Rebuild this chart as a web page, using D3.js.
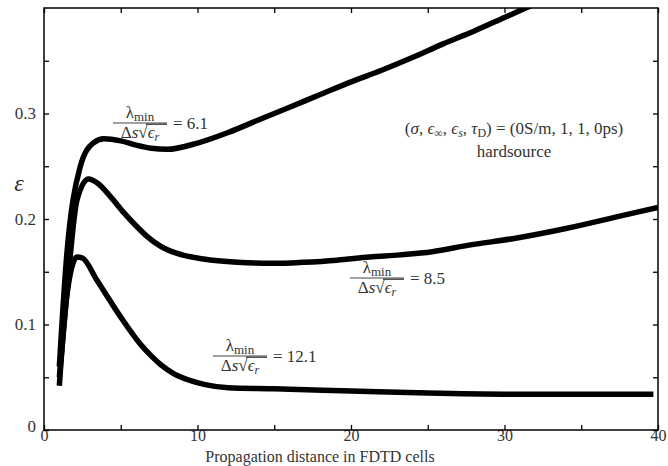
<!DOCTYPE html>
<html>
<head>
<meta charset="utf-8">
<script src="https://cdn.jsdelivr.net/npm/d3@7"></script>
<style>
  html, body { margin: 0; padding: 0; background: #fff; }
</style>
</head>
<body>
<svg id="chart" width="668" height="466" font-family="Liberation Serif" style="font-family: 'Liberation Serif', serif;"></svg>
<script>
// ---- data ----
const xA = [1, 1.45, 2.35, 3.2, 3.9, 5, 6, 7, 8, 10, 12, 14, 16, 18, 20, 22, 24, 26, 28, 30, 32];
const yA = [0.060, 0.160, 0.249, 0.272, 0.276, 0.274, 0.270, 0.267, 0.266, 0.272, 0.282, 0.294, 0.306, 0.318, 0.330, 0.341, 0.353, 0.366, 0.378, 0.391, 0.404];

const xB = [1, 1.45, 2.15, 2.9, 3.5, 4.4, 5.2, 5.9, 6.6, 7.2, 8, 9, 10.4, 12.6, 14.9, 16.9, 19.1, 21.2, 23.2, 25.3, 27.6, 30.8, 34, 37.3, 40];
const yB = [0.050, 0.123, 0.218, 0.238, 0.234, 0.220, 0.206, 0.195, 0.185, 0.178, 0.171, 0.166, 0.162, 0.159, 0.158, 0.159, 0.161, 0.164, 0.166, 0.169, 0.175, 0.182, 0.191, 0.202, 0.211];

const xC = [1, 1.45, 2.15, 2.5, 3.45, 5, 6.3, 7, 7.6, 8.5, 9.5, 10.5, 12, 15, 20, 25, 30, 35, 39.7];
const yC = [0.042, 0.123, 0.164, 0.163, 0.142, 0.107, 0.081, 0.070, 0.062, 0.053, 0.047, 0.043, 0.040, 0.039, 0.037, 0.035, 0.034, 0.034, 0.034];

const xTicks = [0, 5, 10, 15, 20, 25, 30, 35, 40];
const xTickLabels = ["0", "", "10", "", "20", "", "30", "", "40"];
const yTicks = [0, 0.05, 0.1, 0.15, 0.2, 0.25, 0.3, 0.35];
const yTickLabels = ["0", "", "0.1", "", "0.2", "", "0.3", ""];

const ratioLabels = ["6.1", "8.5", "12.1"];

// ---- layout ----
const FONT = "'Liberation Serif', 'Times New Roman', serif";
const svg = d3.select("#chart");
const L = 44, R = 658, T = 8, B = 430;
const x = d3.scaleLinear().domain([0, 40]).range([L, R]);
const y = d3.scaleLinear().domain([0, 0.4]).range([B, T]);

svg.append("defs").append("clipPath").attr("id", "plotclip")
  .append("rect").attr("x", L).attr("y", T).attr("width", R - L).attr("height", B - T);

// axes (inward ticks)
const xFmt = (d) => xTickLabels[xTicks.indexOf(d)];
const yFmt = (d) => yTickLabels[yTicks.findIndex(v => Math.abs(v - d) < 1e-9)];

const gxB = svg.append("g").attr("transform", `translate(0,${B})`)
  .call(d3.axisBottom(x).tickValues(xTicks).tickFormat(xFmt).tickSizeInner(-5).tickSizeOuter(0).tickPadding(0));
const gxT = svg.append("g").attr("transform", `translate(0,${T})`)
  .call(d3.axisTop(x).tickValues(xTicks).tickFormat("").tickSizeInner(-5).tickSizeOuter(0));
const gyL = svg.append("g").attr("transform", `translate(${L},0)`)
  .call(d3.axisLeft(y).tickValues(yTicks).tickFormat(yFmt).tickSizeInner(-5).tickSizeOuter(0).tickPadding(8));
const gyR = svg.append("g").attr("transform", `translate(${R},0)`)
  .call(d3.axisRight(y).tickValues(yTicks).tickFormat("").tickSizeInner(-5).tickSizeOuter(0));

[gxB, gxT, gyL, gyR].forEach(g => {
  g.attr("font-family", null);
  g.select(".domain").remove();
  g.selectAll(".tick line").attr("stroke", "#000").attr("stroke-width", 1.3);
  g.selectAll("text").attr("font-size", 17).attr("fill", "#333").style("font-family", FONT);
});
gxB.selectAll("text").attr("font-size", 16);
gyL.selectAll(".tick").filter(d => d === 0).select("text").attr("dy", "0.1em");

svg.append("rect").attr("x", L).attr("y", T).attr("width", R - L).attr("height", B - T)
  .attr("fill", "none").attr("stroke", "#000").attr("stroke-width", 1.5);

// curves
const line = d3.line().x(d => x(d[0])).y(d => y(d[1])).curve(d3.curveMonotoneX);
const series = [d3.zip(xA, yA), d3.zip(xB, yB), d3.zip(xC, yC)];
svg.append("g").attr("clip-path", "url(#plotclip)")
  .selectAll("path").data(series).join("path")
  .attr("d", line).attr("fill", "none").attr("stroke", "#000")
  .attr("stroke-width", 5.5).attr("stroke-linejoin", "round").attr("stroke-linecap", "butt");

// ---- text helpers ----
function rich(g, px, py, parts, size, anchor) {
  const t = g.append("text").attr("x", px).attr("y", py).attr("font-size", size)
    .attr("text-anchor", anchor || "start").attr("fill", "#333").style("font-family", FONT);
  let shift = 0;
  parts.forEach(p => {
    const s = t.append("tspan").text(p.t);
    const want = p.sub ? p.sub : 0;
    if (want !== shift) { s.attr("dy", want - shift); shift = want; }
    if (p.i) s.attr("font-style", "italic");
    if (p.size) s.attr("font-size", p.size);
  });
  return t;
}

function fraction(cx, barY, value) {
  const g = svg.append("g");
  const half = 27;
  rich(g, cx, barY - 5, [{t: "λ"}, {t: "min", sub: 3, size: 13}], 17, "middle");
  g.append("line").attr("x1", cx - half).attr("x2", cx + half).attr("y1", barY).attr("y2", barY)
    .attr("stroke", "#444").attr("stroke-width", 1.2);
  g.append("line").attr("x1", cx + 6).attr("x2", cx + half).attr("y1", barY + 1.2).attr("y2", barY + 1.2)
    .attr("stroke", "#555").attr("stroke-width", 1.6);
  rich(g, cx, barY + 15, [{t: "Δ"}, {t: "s", i: true}, {t: "√"}, {t: "ϵ", i: true}, {t: "r", i: true, sub: 3, size: 12}], 17, "middle");
  rich(g, cx + half + 6, barY + 6, [{t: "= " + value}], 17, "start");
}

fraction(140, 123, ratioLabels[0]);
fraction(377, 278, ratioLabels[1]);
fraction(240, 356, ratioLabels[2]);

// parameter annotation
rich(svg, 514, 134, [
  {t: "("}, {t: "σ", i: true}, {t: ", "}, {t: "ϵ", i: true}, {t: "∞", sub: 3, size: 12},
  {t: ", "}, {t: "ϵ", i: true}, {t: "s", i: true, sub: 3, size: 12},
  {t: ", "}, {t: "τ", i: true}, {t: "D", sub: 3, size: 12},
  {t: ") = (0S/m, 1, 1, 0ps)"}
], 17, "middle");
rich(svg, 514, 157, [{t: "hardsource"}], 17, "middle");

// axis titles
rich(svg, 320, 462, [{t: "Propagation distance in FDTD cells"}], 16, "middle");
rich(svg, 19, 191, [{t: "ε", i: true}], 24, "middle");
</script>
</body>
</html>
